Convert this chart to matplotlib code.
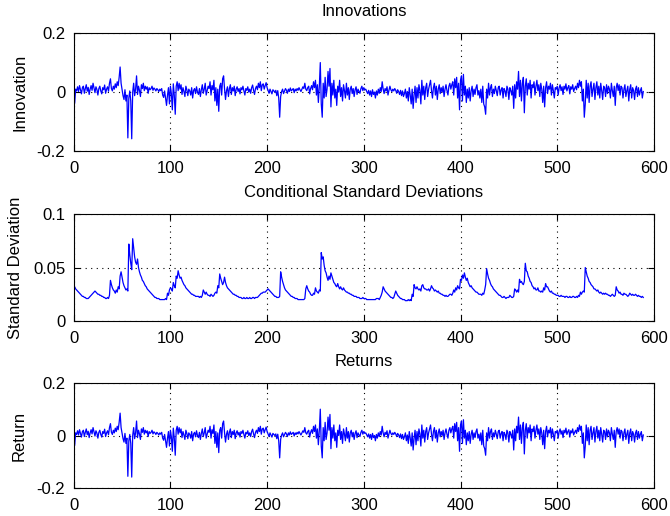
import matplotlib
matplotlib.use("Agg")
import matplotlib.pyplot as plt

# Innovation series (one value per observation)
innovations = [
    -0.005, -0.038, 0.010, 0.004, 0.018, 0.002, 0.022, 0.008, -0.006, 0.015,
    0.020, -0.004, 0.012, 0.025, 0.003, 0.016, -0.008, 0.010, 0.022, 0.006,
    0.030, 0.014, -0.002, 0.018, 0.009, -0.010, 0.012, 0.020, 0.004, -0.006,
    0.015, 0.008, 0.024, -0.004, 0.010, 0.018, 0.003, 0.030, 0.045, 0.012,
    0.004, 0.020, 0.010, 0.028, 0.015, 0.035, 0.022, 0.050, 0.085, 0.030,
    0.010, -0.012, -0.025, 0.008, -0.030, -0.010, -0.155, -0.020, 0.004, -0.030,
    -0.158, 0.000, 0.030, -0.012, 0.010, 0.055, -0.008, 0.020, 0.006, -0.015,
    0.025, 0.012, 0.030, 0.005, 0.020, 0.010, 0.018, -0.004, 0.015, 0.008,
    0.012, 0.020, 0.006, 0.014, 0.010, 0.004, 0.012, 0.008, 0.002, 0.010,
    0.005, 0.012, -0.010, -0.018, 0.004, -0.020, -0.045, -0.010, 0.015, -0.040,
    0.020, -0.005, -0.060, 0.028, -0.010, -0.075, 0.020, 0.035, 0.005, 0.030,
    0.010, 0.025, -0.008, 0.015, 0.002, -0.015, 0.020, 0.008, -0.012, 0.010,
    0.004, -0.010, 0.015, -0.020, 0.006, 0.012, -0.005, 0.018, 0.000, -0.008,
    0.012, -0.015, 0.008, 0.025, -0.004, 0.010, 0.030, -0.010, 0.005, 0.020,
    0.012, 0.035, -0.010, 0.022, 0.008, 0.040, -0.030, 0.015, -0.045, 0.010,
    -0.065, 0.020, 0.030, -0.010, 0.045, 0.055, 0.010, -0.025, 0.005, 0.018,
    -0.015, 0.012, 0.025, -0.008, 0.015, 0.004, 0.020, -0.012, 0.010, 0.018,
    0.002, 0.012, -0.006, 0.015, 0.008, 0.020, 0.004, -0.010, 0.012, 0.006,
    0.018, 0.000, 0.010, -0.004, 0.015, 0.024, 0.006, -0.008, 0.012, 0.020,
    0.008, 0.030, 0.015, 0.035, 0.005, 0.025, 0.028, 0.010, 0.022, 0.032,
    0.015, 0.005, -0.004, 0.010, 0.002, -0.006, 0.008, 0.004, 0.000, 0.006,
    -0.012, 0.005, -0.020, -0.085, -0.015, 0.002, 0.010, -0.005, 0.004, 0.012,
    0.006, -0.004, 0.010, 0.002, 0.014, 0.004, 0.008, 0.012, -0.002, 0.010,
    0.004, 0.012, 0.006, 0.015, 0.008, 0.002, 0.010, 0.018, 0.012, 0.030,
    0.010, 0.005, 0.015, 0.020, -0.006, 0.012, 0.022, 0.008, 0.035, 0.015,
    0.040, -0.010, 0.025, -0.035, 0.020, 0.100, -0.040, -0.085, 0.030, -0.020,
    0.050, -0.015, 0.010, 0.070, 0.020, 0.080, -0.050, 0.030, -0.010, 0.040,
    -0.020, 0.010, -0.045, 0.020, 0.000, 0.040, -0.015, 0.015, -0.030, 0.025,
    0.005, -0.020, 0.030, -0.010, 0.015, -0.025, 0.010, 0.020, -0.005, 0.012,
    -0.015, 0.008, 0.018, -0.008, 0.010, 0.002, -0.004, 0.012, 0.020, 0.005,
    0.015, 0.008, 0.010, 0.002, -0.005, 0.006, -0.010, 0.004, -0.015, 0.008,
    -0.008, 0.000, -0.020, 0.004, -0.010, 0.010, -0.004, 0.015, 0.002, 0.035,
    0.010, -0.005, 0.012, 0.004, 0.018, -0.010, 0.006, 0.020, 0.008, 0.002,
    0.010, 0.004, 0.012, 0.006, -0.004, 0.008, 0.002, -0.008, 0.006, -0.012,
    0.004, -0.015, -0.005, 0.010, -0.020, 0.002, -0.030, 0.015, -0.010, -0.040,
    0.010, -0.055, -0.010, 0.020, -0.035, 0.015, -0.020, 0.025, 0.005, -0.040,
    0.040, -0.010, 0.020, -0.025, 0.015, 0.030, -0.015, 0.010, 0.025, 0.040,
    0.005, -0.020, 0.015, 0.030, -0.010, 0.020, -0.025, 0.010, 0.025, -0.005,
    0.015, 0.000, 0.020, -0.015, 0.010, 0.025, 0.005, -0.010, 0.020, 0.030,
    0.010, 0.025, 0.035, -0.010, 0.045, 0.015, 0.050, -0.020, 0.030, -0.060,
    0.040, 0.055, -0.030, 0.060, -0.010, 0.020, -0.035, 0.010, -0.020, 0.015,
    -0.030, 0.005, 0.020, -0.015, 0.010, -0.008, 0.015, 0.025, -0.010, 0.005,
    -0.020, 0.010, -0.035, 0.020, -0.040, -0.050, -0.075, 0.010, -0.020, 0.030,
    -0.010, 0.015, 0.025, -0.015, 0.010, -0.005, 0.020, 0.005, -0.012, 0.015,
    0.020, -0.010, 0.008, 0.015, -0.020, 0.012, 0.004, -0.015, 0.020, 0.010,
    -0.025, 0.015, 0.005, -0.010, 0.020, -0.055, 0.025, -0.020, 0.035, 0.010,
    0.070, -0.015, 0.040, -0.030, 0.030, 0.050, -0.070, 0.020, 0.045, -0.010,
    0.030, 0.010, 0.040, -0.020, 0.025, 0.015, 0.035, -0.010, 0.020, 0.040,
    0.005, 0.025, -0.015, 0.030, 0.010, -0.035, 0.020, -0.050, 0.015, 0.035,
    -0.005, 0.020, 0.010, 0.030, -0.010, 0.025, 0.005, -0.020, 0.015, 0.010,
    0.020, -0.010, 0.015, 0.025, 0.005, 0.018, -0.008, 0.020, 0.010, 0.028,
    0.004, 0.015, 0.022, -0.006, 0.018, 0.010, 0.025, 0.002, 0.012, 0.020,
    0.008, 0.030, 0.015, 0.040, 0.020, 0.035, -0.030, 0.010, -0.085, -0.040,
    0.040, -0.020, 0.030, -0.035, 0.020, 0.035, -0.015, 0.010, 0.030, -0.025,
    0.015, 0.035, -0.010, 0.020, -0.020, 0.030, 0.005, -0.025, 0.020, 0.015,
    -0.015, 0.025, -0.005, 0.020, 0.010, -0.020, 0.030, 0.005, -0.015, 0.020,
    -0.045, 0.015, 0.030, 0.005, 0.025, -0.010, 0.020, 0.015, -0.020, 0.010,
    0.025, -0.015, 0.005, 0.020, -0.030, 0.010, 0.025, -0.020, 0.015, 0.005,
    -0.025, 0.010, 0.020, -0.015, 0.015, -0.010, 0.005, 0.015, -0.020, 0.002,
]

# Conditional standard deviations
sigmas = [
    0.031, 0.032, 0.030, 0.029, 0.028, 0.027, 0.026, 0.025, 0.024, 0.023,
    0.023, 0.022, 0.022, 0.021, 0.021, 0.021, 0.022, 0.023, 0.024, 0.025,
    0.026, 0.027, 0.028, 0.027, 0.026, 0.025, 0.025, 0.024, 0.024, 0.023,
    0.023, 0.022, 0.022, 0.021, 0.021, 0.022, 0.021, 0.024, 0.038, 0.034,
    0.031, 0.029, 0.028, 0.026, 0.029, 0.027, 0.032, 0.030, 0.042, 0.046,
    0.041, 0.036, 0.033, 0.031, 0.029, 0.030, 0.028, 0.072, 0.062, 0.054,
    0.048, 0.077, 0.068, 0.060, 0.055, 0.053, 0.058, 0.050, 0.046, 0.043,
    0.041, 0.038, 0.037, 0.035, 0.033, 0.032, 0.030, 0.029, 0.028, 0.027,
    0.026, 0.025, 0.024, 0.023, 0.022, 0.022, 0.021, 0.021, 0.021, 0.020,
    0.020, 0.020, 0.020, 0.020, 0.020, 0.021, 0.020, 0.026, 0.024, 0.029,
    0.031, 0.030, 0.028, 0.036, 0.033, 0.031, 0.042, 0.040, 0.047, 0.043,
    0.040, 0.041, 0.038, 0.036, 0.034, 0.033, 0.031, 0.030, 0.029, 0.028,
    0.027, 0.026, 0.025, 0.025, 0.024, 0.024, 0.023, 0.023, 0.023, 0.023,
    0.022, 0.023, 0.022, 0.024, 0.029, 0.027, 0.025, 0.027, 0.025, 0.024,
    0.024, 0.023, 0.025, 0.024, 0.023, 0.024, 0.026, 0.027, 0.026, 0.033,
    0.031, 0.044, 0.040, 0.037, 0.034, 0.036, 0.041, 0.036, 0.033, 0.031,
    0.030, 0.029, 0.028, 0.027, 0.026, 0.025, 0.025, 0.024, 0.024, 0.023,
    0.023, 0.022, 0.022, 0.022, 0.021, 0.021, 0.022, 0.021, 0.021, 0.022,
    0.021, 0.021, 0.022, 0.021, 0.021, 0.022, 0.022, 0.021, 0.022, 0.022,
    0.022, 0.023, 0.024, 0.025, 0.026, 0.026, 0.027, 0.027, 0.027, 0.028,
    0.029, 0.030, 0.029, 0.028, 0.027, 0.026, 0.025, 0.024, 0.023, 0.023,
    0.022, 0.022, 0.022, 0.023, 0.046, 0.041, 0.037, 0.034, 0.031, 0.029,
    0.028, 0.027, 0.026, 0.025, 0.024, 0.023, 0.023, 0.022, 0.022, 0.021,
    0.021, 0.021, 0.020, 0.020, 0.020, 0.020, 0.020, 0.020, 0.020, 0.021,
    0.030, 0.033, 0.030, 0.028, 0.027, 0.025, 0.024, 0.024, 0.026, 0.025,
    0.031, 0.028, 0.027, 0.026, 0.029, 0.028, 0.064, 0.058, 0.060, 0.052,
    0.047, 0.045, 0.041, 0.038, 0.042, 0.039, 0.045, 0.042, 0.039, 0.036,
    0.035, 0.033, 0.032, 0.035, 0.032, 0.030, 0.032, 0.030, 0.029, 0.031,
    0.029, 0.028, 0.027, 0.027, 0.026, 0.026, 0.025, 0.025, 0.024, 0.024,
    0.023, 0.023, 0.023, 0.022, 0.022, 0.022, 0.021, 0.021, 0.021, 0.022,
    0.021, 0.021, 0.021, 0.020, 0.020, 0.020, 0.020, 0.020, 0.020, 0.020,
    0.020, 0.020, 0.020, 0.021, 0.021, 0.021, 0.020, 0.022, 0.024, 0.027,
    0.032, 0.030, 0.028, 0.027, 0.026, 0.025, 0.024, 0.023, 0.022, 0.022,
    0.021, 0.022, 0.025, 0.028, 0.026, 0.024, 0.023, 0.022, 0.021, 0.021,
    0.020, 0.020, 0.020, 0.019, 0.019, 0.019, 0.020, 0.019, 0.020, 0.019,
    0.025, 0.023, 0.034, 0.031, 0.030, 0.032, 0.030, 0.029, 0.030, 0.028,
    0.033, 0.034, 0.031, 0.030, 0.030, 0.029, 0.029, 0.030, 0.028, 0.030,
    0.033, 0.031, 0.030, 0.028, 0.029, 0.028, 0.027, 0.028, 0.026, 0.026,
    0.025, 0.025, 0.024, 0.024, 0.023, 0.024, 0.023, 0.023, 0.024, 0.025,
    0.025, 0.024, 0.026, 0.029, 0.027, 0.031, 0.029, 0.033, 0.031, 0.030,
    0.039, 0.038, 0.043, 0.040, 0.045, 0.041, 0.038, 0.040, 0.036, 0.034,
    0.032, 0.033, 0.031, 0.030, 0.029, 0.028, 0.027, 0.027, 0.026, 0.025,
    0.025, 0.025, 0.024, 0.026, 0.025, 0.029, 0.034, 0.049, 0.044, 0.040,
    0.038, 0.035, 0.033, 0.032, 0.030, 0.029, 0.028, 0.027, 0.026, 0.025,
    0.024, 0.024, 0.023, 0.022, 0.022, 0.023, 0.022, 0.021, 0.022, 0.022,
    0.022, 0.024, 0.023, 0.022, 0.022, 0.023, 0.030, 0.029, 0.027, 0.029,
    0.027, 0.039, 0.036, 0.037, 0.035, 0.034, 0.037, 0.054, 0.047, 0.046,
    0.042, 0.040, 0.037, 0.036, 0.033, 0.032, 0.030, 0.031, 0.029, 0.029,
    0.031, 0.028, 0.028, 0.027, 0.028, 0.027, 0.031, 0.029, 0.035, 0.032,
    0.032, 0.030, 0.028, 0.027, 0.028, 0.026, 0.026, 0.025, 0.025, 0.024,
    0.024, 0.024, 0.023, 0.023, 0.024, 0.023, 0.023, 0.023, 0.022, 0.023,
    0.023, 0.022, 0.022, 0.023, 0.022, 0.022, 0.023, 0.023, 0.022, 0.022,
    0.023, 0.022, 0.024, 0.023, 0.027, 0.025, 0.027, 0.028, 0.027, 0.050,
    0.046, 0.042, 0.040, 0.037, 0.036, 0.034, 0.033, 0.032, 0.030, 0.030,
    0.029, 0.028, 0.029, 0.027, 0.026, 0.027, 0.026, 0.025, 0.026, 0.025,
    0.026, 0.025, 0.025, 0.024, 0.024, 0.023, 0.024, 0.025, 0.024, 0.023,
    0.024, 0.032, 0.029, 0.028, 0.026, 0.027, 0.025, 0.025, 0.024, 0.026,
    0.025, 0.025, 0.024, 0.023, 0.024, 0.026, 0.025, 0.024, 0.025, 0.024,
    0.024, 0.025, 0.024, 0.023, 0.024, 0.023, 0.023, 0.022, 0.023, 0.022,
]

# Returns: the fitted mean is zero, so returns coincide with the innovations
returns = list(innovations)

obs = list(range(len(innovations)))

x_ticks = [0, 100, 200, 300, 400, 500, 600]
panels = [
    ("Innovations", "Innovation", innovations, (-0.2, 0.2), [-0.2, 0, 0.2], ["-0.2", "0", "0.2"]),
    ("Conditional Standard Deviations", "Standard Deviation", sigmas, (0, 0.1), [0, 0.05, 0.1], ["0", "0.05", "0.1"]),
    ("Returns", "Return", returns, (-0.2, 0.2), [-0.2, 0, 0.2], ["-0.2", "0", "0.2"]),
]

plt.rcParams["font.family"] = ["Liberation Sans", "DejaVu Sans"]
plt.rcParams["font.size"] = 12

fig = plt.figure(figsize=(6.70, 5.16), dpi=100)
fig.patch.set_facecolor("white")

# [left, bottom, width, height] in figure fraction
boxes = [
    [0.110, 0.707, 0.866, 0.229],
    [0.110, 0.378, 0.866, 0.207],
    [0.110, 0.054, 0.866, 0.204],
]

for box, (title, ylabel, series, ylim, yticks, ylabels) in zip(boxes, panels):
    ax = fig.add_axes(box)
    ax.plot(obs, series, color=(0, 0, 1), linewidth=0.9)
    ax.set_xlim(0, 600)
    ax.set_ylim(*ylim)
    ax.set_xticks(x_ticks)
    ax.set_xticklabels([str(t) for t in x_ticks])
    ax.set_yticks(yticks)
    ax.set_yticklabels(ylabels)
    ax.set_title(title, fontsize=12, pad=12)
    ax.set_ylabel(ylabel, fontsize=12, labelpad=7)
    ax.grid(True, linestyle=(0, (1, 4)), color="black", linewidth=0.8)
    ax.set_axisbelow(True)
    ax.tick_params(direction="in", top=True, right=True, length=4,
                   width=0.8, labelsize=12)
    ax.tick_params(axis="x", pad=7)
    ax.tick_params(axis="y", pad=6)
    for s in ax.spines.values():
        s.set_linewidth(0.8)

fig.savefig("out.png", dpi=100, facecolor="white")
